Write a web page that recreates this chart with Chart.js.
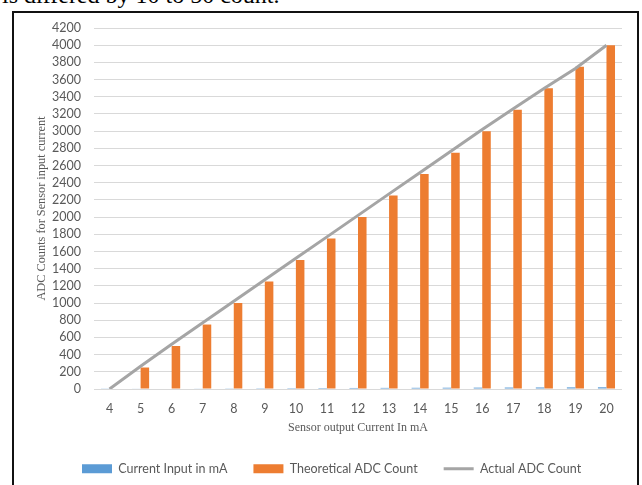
<!DOCTYPE html>
<html>
<head>
<meta charset="utf-8">
<script src="https://cdn.jsdelivr.net/npm/chart.js@4/dist/chart.umd.min.js"></script>
<style>
  html, body { margin: 0; padding: 0; background: #fff; }
  body { width: 642px; height: 485px; position: relative; overflow: hidden; }
  #caption { position: absolute; left: 2px; top: -17px; font: 24px/24px "Liberation Serif", serif; color: #000; white-space: nowrap; }
  #frame { position: absolute; left: 12px; top: 11px; width: 623px; height: 500px; border: 2px solid #111; }
  #wrap { position: absolute; left: 0; top: 0; width: 642px; height: 485px; }
</style>
</head>
<body>
<div id="caption">is differed by 10 to 50 count.</div>
<div id="frame"></div>
<div id="wrap"><canvas id="grafico" width="642" height="485"></canvas></div>
<script>
// datos
const corrientes = ['4','5','6','7','8','9','10','11','12','13','14','15','16','17','18','19','20'];
const corrienteEntrada = [4,5,6,7,8,9,10,11,12,13,14,15,16,17,18,19,20];
const adcTeorico = [0,250,500,750,1000,1250,1500,1750,2000,2250,2500,2750,3000,3250,3500,3750,4000];
const adcReal = [0,265,520,770,1020,1270,1520,1770,2020,2270,2520,2770,3020,3260,3500,3730,4000];

const gris = '#595959';
const fuenteSans = 'Lato, "Noto Sans", sans-serif';
const fuenteSerif = '"Liberation Serif", "Times New Roman", serif';

// mueve la leyenda a la izquierda como en el original
const moverLeyenda = {
  id: 'moverLeyenda',
  afterLayout(chart) {
    const l = chart.legend;
    const dx = 56 - l.left;
    l.left += dx;
    l.right += dx;
  }
};

const ctx = document.getElementById('grafico').getContext('2d');
const grafico = new Chart(ctx, {
  type: 'bar',
  data: {
    labels: corrientes,
    datasets: [
      { label: 'Current Input in mA', data: corrienteEntrada, backgroundColor: '#5B9BD5', order: 1,
        categoryPercentage: 0.55, barPercentage: 1.0 },
      { label: 'Theoretical ADC Count', data: adcTeorico, backgroundColor: '#ED7D31', order: 1,
        categoryPercentage: 0.55, barPercentage: 1.0 },
      { type: 'line', label: 'Actual ADC Count', data: adcReal, borderColor: '#A5A5A5', backgroundColor: '#A5A5A5',
        borderWidth: 3, pointRadius: 0, tension: 0, order: 0 }
    ]
  },
  options: {
    responsive: false,
    animation: false,
    maintainAspectRatio: false,
    layout: { padding: { left: 30, right: 20, top: 28, bottom: 0 } },
    plugins: {
      tooltip: { enabled: false },
      legend: {
        position: 'bottom',
        align: 'start',
        labels: {
          font: { family: fuenteSans, size: 12.5 },
          color: gris,
          padding: 26,
          usePointStyle: true,
          pointStyleWidth: 30,
          boxHeight: 9,
          sort: (a, b) => a.datasetIndex - b.datasetIndex,
          generateLabels(chart) {
            const items = Chart.defaults.plugins.legend.labels.generateLabels(chart);
            items.forEach(it => {
              if (it.datasetIndex === 2) {
                it.pointStyle = 'line';
                it.lineWidth = 3;
                it.strokeStyle = '#A5A5A5';
              } else {
                it.pointStyle = 'rect';
                it.lineWidth = 0;
              }
            });
            return items;
          }
        }
      }
    },
    scales: {
      x: {
        grid: { display: false, drawTicks: false },
        border: { display: false },
        ticks: { color: gris, font: { family: fuenteSans, size: 12.5 }, padding: 12, maxRotation: 0 },
        title: { display: true, text: 'Sensor output Current In mA', color: gris,
          font: { family: fuenteSerif, size: 12 }, padding: { top: 4, bottom: 1 } },
        afterFit(scale) { scale.height = 47.5; }
      },
      y: {
        min: 0,
        max: 4200,
        grid: { color: '#D9D9D9', drawTicks: false },
        border: { display: false },
        ticks: { stepSize: 200, autoSkip: false, color: gris, font: { family: fuenteSans, size: 12.5 }, padding: 13,
          callback: v => String(v) },
        title: { display: true, text: 'ADC Counts for Sensor input current', color: gris,
          font: { family: fuenteSerif, size: 12.3 } },
        afterFit(scale) { scale.width = 64; }
      }
    }
  },
  plugins: [moverLeyenda]
});
</script>
</body>
</html>
